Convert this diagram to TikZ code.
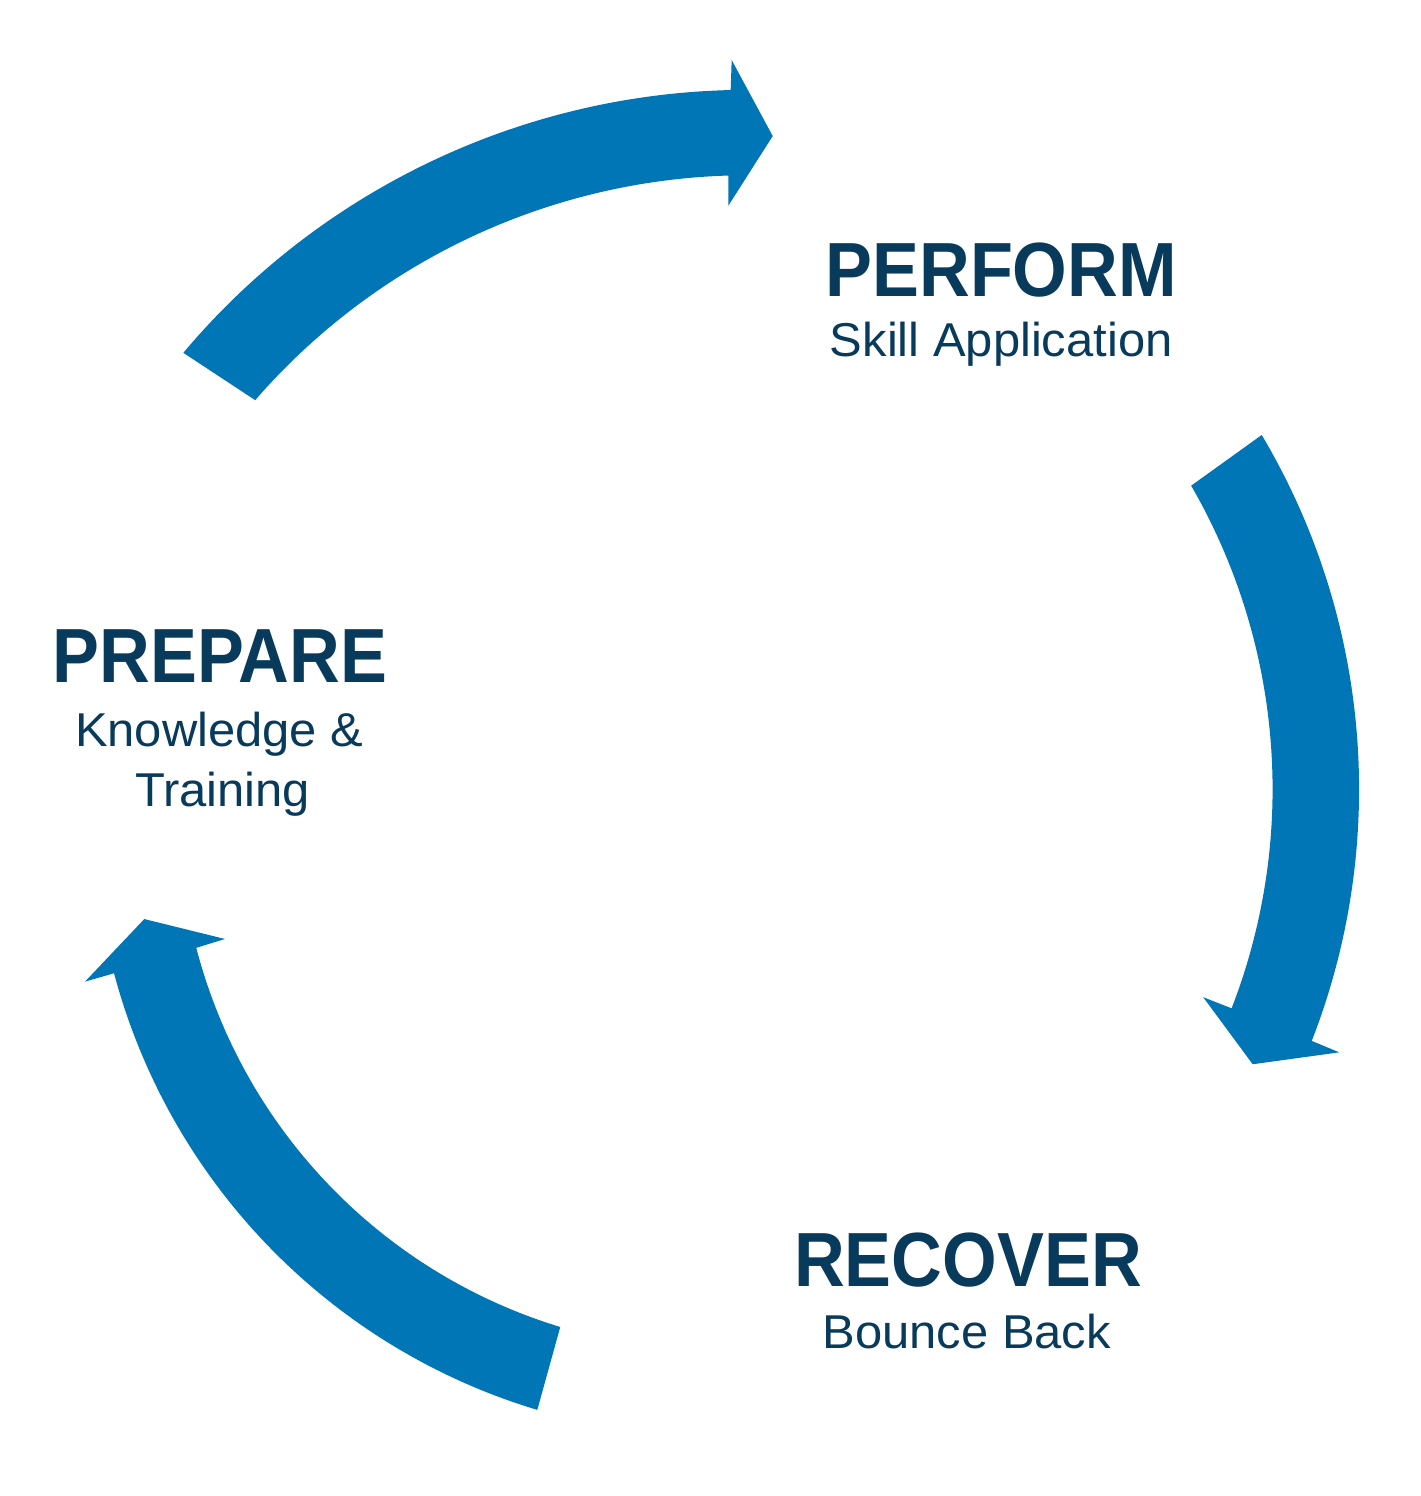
\documentclass[tikz,border=0pt]{standalone}
\usepackage{fontspec}
\setmainfont{Liberation Sans}
\newfontfamily\titlefont{Liberation Sans}[FakeStretch=0.915]
\newfontfamily\subfont{Liberation Sans}[FakeStretch=1.03]
\definecolor{arrowblue}{RGB}{0,118,182}
\definecolor{textnavy}{RGB}{8,58,92}
\tikzset{
  cyclearrow/.style={fill=arrowblue, draw=none},
  titletext/.style={anchor=base, inner sep=0pt, text=textnavy, font=\titlefont\bfseries\fontsize{76.8}{80}\selectfont},
  subtext/.style={anchor=base, inner sep=0pt, text=textnavy, font=\subfont\fontsize{47.5}{52}\selectfont}
}
\begin{document}
\begin{tikzpicture}[x=1pt,y=1pt]
\useasboundingbox (0,0) rectangle (1421,-1496);
\fill[white] (0,0) rectangle (1421,-1496);

% top arrow (Prepare -> Perform)
\begin{scope}[shift={(748.3,-828.2)}]
\coordinate (ctop) at (0,0);
\fill[cyclearrow] (139.92:738.4) arc[start angle=139.92, end angle=91.37, radius=738.4]
  -- (91.24:768.4) -- (87.98:692.6) -- (91.84:622.8) -- (91.76:653)
  arc[start angle=91.76, end angle=139.04, radius=653] -- cycle;
\end{scope}

% right arrow (Perform -> Recover)
\begin{scope}[shift={(666.1,-789.2)}]
\coordinate (cright) at (0,0);
\fill[cyclearrow] (30.74:693) arc[start angle=30.74, end angle=-21.3, radius=693]
  -- (-21.35:722.8) -- (-25.12:647.9) -- (-21.17:576) -- (-21.18:606.5)
  arc[start angle=-21.18, end angle=30.03, radius=606.5] -- cycle;
\end{scope}

% left arrow (Recover -> Prepare)
\begin{scope}[shift={(716.9,-812.3)}]
\coordinate (cleft) at (0,0);
\fill[cyclearrow] (253.27:624) arc[start angle=253.27, end angle=194.95, radius=624]
  -- (195.0:654.2) -- (190.56:582.5) -- (194.44:508) -- (194.59:538)
  arc[start angle=194.59, end angle=253.07, radius=538] -- cycle;
\end{scope}

% labels
\node[titletext] (perform) at (1001.2,-296.7) {PERFORM};
\node[subtext] (performsub) at (1001.3,-356) {Skill Application};
\node[titletext] (prepare) at (220,-682.7) {PREPARE};
\node[subtext] (preparesubA) at (219.2,-746) {Knowledge \&};
\node[subtext] (preparesubB) at (222.5,-806.7) {Training};
\node[titletext] (recover) at (968,-1286.7) {RECOVER};
\node[subtext] (recoversub) at (966.7,-1348.3) {Bounce Back};
\end{tikzpicture}
\end{document}
